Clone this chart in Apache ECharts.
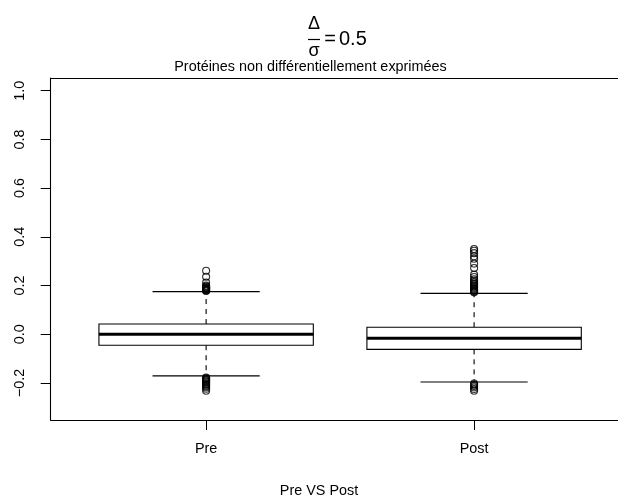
<!DOCTYPE html>
<html>
<head>
<meta charset="utf-8">
<script src="https://cdn.jsdelivr.net/npm/echarts@6/dist/echarts.min.js"></script>
<style>
  html, body { margin: 0; background: #fff; }
  #chart { width: 618px; height: 500px; }
</style>
</head>
<body>
<div id="chart"></div>
<script>
// data
const categories = ['Pre', 'Post'];
const xPositions = [1, 2];
const lowerWhisker = [-0.171, -0.196];
const q1 = [-0.045, -0.062];
const median = [0.0, -0.016];
const q3 = [0.042, 0.029];
const upperWhisker = [0.175, 0.168];
const preOutliers = [
  0.261, 0.236, 0.212, 0.2, 0.197, 0.194, 0.192, 0.19, 0.188, 0.186, 0.184, 0.182, 0.18, 0.178,
  -0.178, -0.181, -0.184, -0.187, -0.19, -0.193, -0.196, -0.2, -0.204, -0.208, -0.213, -0.218, -0.224, -0.232,
];
const postOutliers = [
  0.35, 0.343, 0.333, 0.32, 0.31, 0.29, 0.272, 0.245, 0.235, 0.226, 0.22, 0.214, 0.208, 0.203,
  0.198, 0.194, 0.19, 0.186, 0.182, 0.178, 0.175, 0.172,
  -0.202, -0.207, -0.212, -0.218, -0.225, -0.232,
];
const yTicks = [-0.2, 0, 0.2, 0.4, 0.6, 0.8, 1.0];

const font = "'Liberation Sans', Arial, sans-serif";
const chart = echarts.init(document.getElementById('chart'), null, { renderer: 'canvas' });

const boxData = xPositions.map((x, i) => [x, lowerWhisker[i], q1[i], median[i], q3[i], upperWhisker[i]]);
const outlierData = [
  ...preOutliers.map(v => [xPositions[0], v]),
  ...postOutliers.map(v => [xPositions[1], v]),
];

// R-style box: dashed whiskers, half-width staples, thick median
const renderBox = (params, api) => {
  const x = api.value(0);
  const pt = (dx, v) => api.coord([x + dx, v]);
  const lo = api.value(1), a = api.value(2), m = api.value(3), b = api.value(4), hi = api.value(5);
  const line = (p1, p2, style) => ({
    type: 'line',
    shape: { x1: p1[0], y1: p1[1], x2: p2[0], y2: p2[1] },
    style: Object.assign({ stroke: '#000', lineWidth: 1.1 }, style),
  });
  const tl = pt(-0.4, b);
  const br = pt(0.4, a);
  return {
    type: 'group',
    children: [
      line(pt(0, b), pt(0, hi), { lineDash: [5, 5] }),
      line(pt(0, a), pt(0, lo), { lineDash: [5, 5] }),
      line(pt(-0.2, hi), pt(0.2, hi)),
      line(pt(-0.2, lo), pt(0.2, lo)),
      {
        type: 'rect',
        shape: { x: tl[0], y: tl[1], width: br[0] - tl[0], height: br[1] - tl[1] },
        style: { fill: '#fff', stroke: '#000', lineWidth: 1.1 },
      },
      line(pt(-0.4, m), pt(0.4, m), { lineWidth: 3 }),
    ],
  };
};

const textStyle = { fontFamily: font, fontSize: 14.4, fill: '#000' };
const frameLine = { show: true, onZero: false, lineStyle: { color: '#000', width: 1.1 } };

chart.setOption({
  backgroundColor: '#fff',
  animation: false,
  grid: { left: 50.7, top: 78, right: 0, bottom: 80 },
  xAxis: [
    {
      type: 'value',
      min: 0.42,
      max: 2.537, // the frame runs past the right edge of the picture
      splitLine: { show: false },
      axisLine: frameLine,
      axisTick: { show: true, inside: false, length: 10, customValues: xPositions, lineStyle: { color: '#000' } },
      axisLabel: {
        customValues: xPositions,
        formatter: v => categories[Math.round(v) - 1],
        margin: 22,
        color: '#000', fontFamily: font, fontSize: 14.4,
      },
    },
    {
      type: 'value',
      position: 'top',
      min: 0.42,
      max: 2.537,
      splitLine: { show: false },
      axisLine: frameLine,
      axisTick: { show: false },
      axisLabel: { show: false },
    },
  ],
  yAxis: {
    type: 'value',
    min: -0.352,
    max: 1.052,
    splitLine: { show: false },
    axisLine: frameLine,
    axisTick: { show: true, inside: false, length: 10, customValues: yTicks, lineStyle: { color: '#000' } },
    axisLabel: {
      customValues: yTicks,
      rotate: 90,
      formatter: v => v.toFixed(1).replace('-', '\u2212'),
      margin: 24,
      color: '#000', fontFamily: font, fontSize: 14.4,
    },
  },
  graphic: [
    { type: 'text', x: 314, y: 24, style: Object.assign({}, textStyle, { text: '\u0394', fontSize: 18, align: 'center', verticalAlign: 'middle' }) },
    { type: 'line', shape: { x1: 308, y1: 39.5, x2: 320, y2: 39.5 }, style: { stroke: '#000', lineWidth: 1.2 } },
    { type: 'text', x: 314, y: 51, style: Object.assign({}, textStyle, { text: '\u03c3', fontSize: 18, align: 'center', verticalAlign: 'middle' }) },
    { type: 'text', x: 330, y: 39, style: Object.assign({}, textStyle, { text: '=', fontSize: 20, align: 'center', verticalAlign: 'middle' }) },
    { type: 'text', x: 339, y: 39, style: Object.assign({}, textStyle, { text: '0.5', fontSize: 20, align: 'left', verticalAlign: 'middle' }) },
    { type: 'text', x: 310.5, y: 67, style: Object.assign({}, textStyle, { text: 'Protéines non différentiellement exprimées', align: 'center', verticalAlign: 'middle' }) },
    { type: 'text', x: 319, y: 491, style: Object.assign({}, textStyle, { text: 'Pre VS Post', align: 'center', verticalAlign: 'middle' }) },
  ],
  series: [
    {
      type: 'custom',
      renderItem: renderBox,
      data: boxData,
      encode: { x: 0, y: [1, 2, 3, 4, 5] },
      z: 2,
    },
    {
      type: 'scatter',
      data: outlierData,
      symbol: 'circle',
      symbolSize: 7,
      itemStyle: { color: 'transparent', borderColor: '#000', borderWidth: 1.1 },
      z: 3,
    },
  ],
});
</script>
</body>
</html>
